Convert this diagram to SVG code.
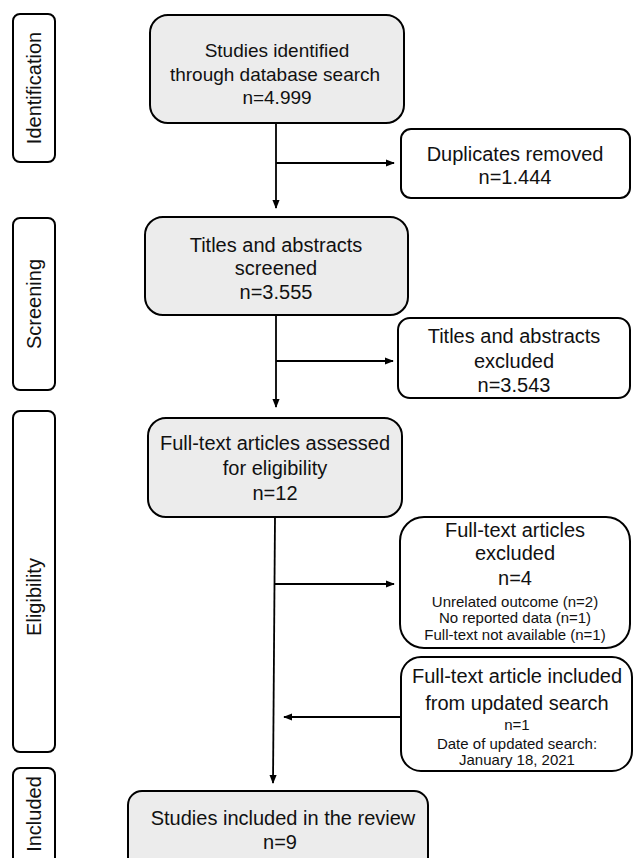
<svg xmlns="http://www.w3.org/2000/svg" width="634" height="858" viewBox="0 0 634 858">
<style>
.side{fill:#fff;stroke:#000;stroke-width:2}
.main{fill:#ececec;stroke:#000;stroke-width:2}
.outb{fill:#fff;stroke:#000;stroke-width:2}
text{font-family:"Liberation Sans",Arial,sans-serif;fill:#111;text-anchor:middle}
.t{font-size:20px}
.t19{font-size:19px}
.s{font-size:15px}
.conn{fill:none;stroke:#000;stroke-width:1.8}
</style>
<defs>
<marker id="ah" viewBox="0 0 10 10" refX="9" refY="5" markerWidth="5" markerHeight="5" orient="auto" markerUnits="strokeWidth">
<path d="M0,1 L10,5 L0,9 z" fill="#000"/>
</marker>
</defs>
<rect width="634" height="858" fill="#fff"/>
<g id="phase-identification">
<rect class="side" x="13" y="14" width="42" height="148" rx="7"/>
<text class="t" transform="translate(41,88) rotate(-90)">Identification</text>
</g>
<g id="phase-screening">
<rect class="side" x="13" y="218" width="42" height="172" rx="7"/>
<text class="t" transform="translate(41,304) rotate(-90)">Screening</text>
</g>
<g id="phase-eligibility">
<rect class="side" x="13" y="411" width="42" height="341" rx="7"/>
<text class="t" transform="translate(41,597) rotate(-90)">Eligibility</text>
</g>
<g id="phase-included">
<rect class="side" x="13" y="768" width="42" height="110" rx="7"/>
<text class="t" transform="translate(41,814) rotate(-90)">Included</text>
</g>
<g id="n-identified">
<rect class="main" x="150" y="15" width="254" height="108" rx="18"/>
<text class="t19" x="277" y="57">Studies identified</text>
<text class="t19" x="275" y="81">through database search</text>
<text class="t19" x="277" y="104">n=4.999</text>
</g>
<g id="n-duplicates">
<rect class="outb" x="401" y="129" width="229" height="69" rx="10"/>
<text class="t" x="515" y="161">Duplicates removed</text>
<text class="t" x="515" y="184">n=1.444</text>
</g>
<g id="n-screened">
<rect class="main" x="145" y="217" width="263" height="98" rx="18"/>
<text class="t" x="276" y="252">Titles and abstracts</text>
<text class="t" x="276" y="275">screened</text>
<text class="t" x="276" y="299">n=3.555</text>
</g>
<g id="n-excluded-ta">
<rect class="outb" x="398" y="318" width="232" height="80" rx="12"/>
<text class="t" x="514" y="343">Titles and abstracts</text>
<text class="t" x="514" y="368">excluded</text>
<text class="t" x="514" y="392">n=3.543</text>
</g>
<g id="n-fulltext">
<rect class="main" x="148" y="418" width="254" height="99" rx="18"/>
<text class="t" x="275" y="450">Full-text articles assessed</text>
<text class="t" x="275" y="475">for eligibility</text>
<text class="t" x="275" y="500">n=12</text>
</g>
<g id="n-excluded-ft">
<rect class="outb" x="400" y="517" width="230" height="131" rx="24"/>
<text class="t" x="515" y="537">Full-text articles</text>
<text class="t" x="515" y="560">excluded</text>
<text class="t" x="515" y="585">n=4</text>
<text class="s" x="515" y="607">Unrelated outcome (n=2)</text>
<text class="s" x="515" y="623">No reported data (n=1)</text>
<text class="s" x="515" y="640">Full-text not available (n=1)</text>
</g>
<g id="n-updated">
<rect class="outb" x="401" y="657" width="231" height="114" rx="20"/>
<text class="t" x="517" y="683">Full-text article included</text>
<text class="t" x="517" y="710">from updated search</text>
<text class="s" x="517" y="730">n=1</text>
<text class="s" x="517" y="749">Date of updated search:</text>
<text class="s" x="517" y="765">January 18, 2021</text>
</g>
<g id="n-included">
<rect class="main" x="128" y="791" width="300" height="80" rx="14"/>
<text class="t" x="283" y="825">Studies included in the review</text>
<text class="t" x="280" y="849">n=9</text>
</g>
<g id="connectors">
<path class="conn" d="M276,123 V208" marker-end="url(#ah)"/>
<path class="conn" d="M276,163 H394" marker-end="url(#ah)"/>
<path class="conn" d="M276,315 V407" marker-end="url(#ah)"/>
<path class="conn" d="M276,361 H393" marker-end="url(#ah)"/>
<path class="conn" d="M275,517 L273,783" marker-end="url(#ah)"/>
<path class="conn" d="M274,584 H394" marker-end="url(#ah)"/>
<path class="conn" d="M401,717 H284" marker-end="url(#ah)"/>
</g>
</svg>
